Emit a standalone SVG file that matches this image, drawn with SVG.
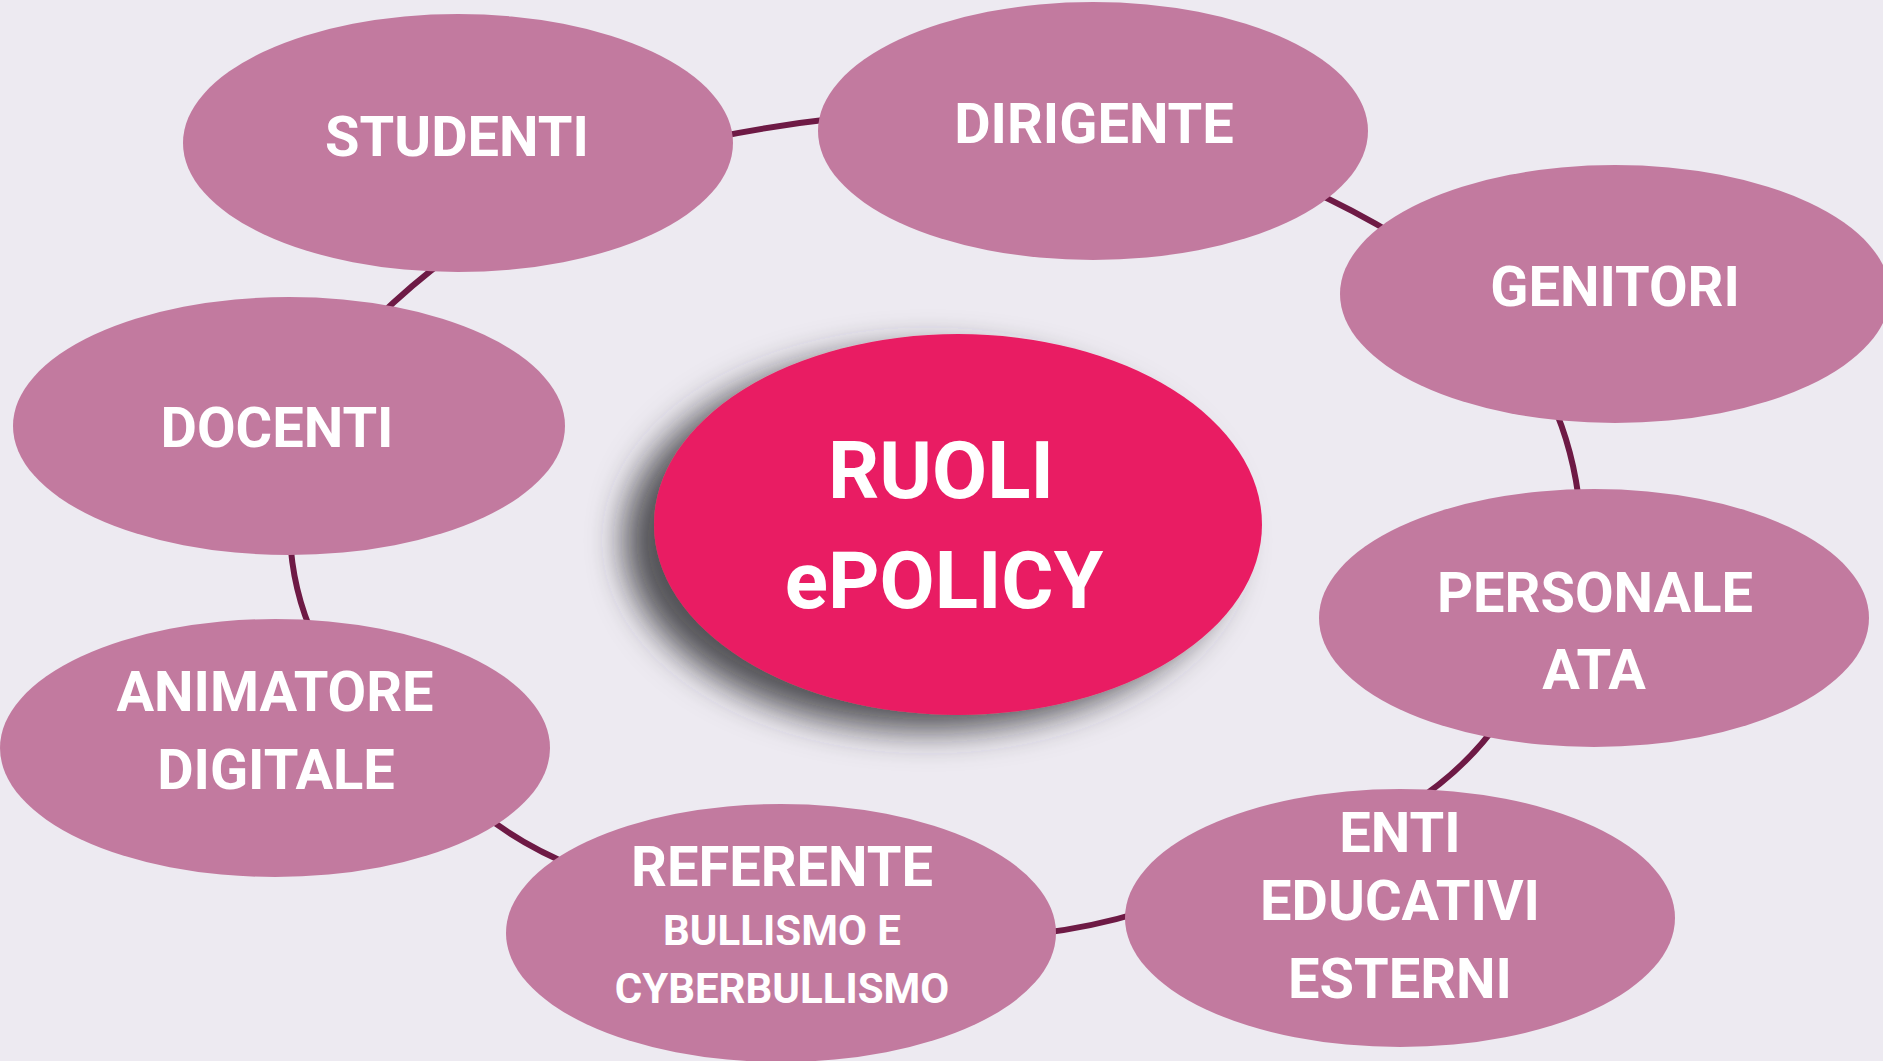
<svg xmlns="http://www.w3.org/2000/svg" width="1883" height="1061" viewBox="0 0 1883 1061">
<defs>
<filter id="shadow" x="-30%" y="-30%" width="160%" height="160%">
<feDropShadow dx="-30" dy="16" stdDeviation="17" flood-color="#2e2e33" flood-opacity="0.82"/>
</filter>
<style>
.node{fill:#C27A9F;}
.center{fill:#E91E63;}
.lbl{font-family:Roboto,"Liberation Sans",sans-serif;font-weight:700;fill:#FFFFFF;text-anchor:middle;}
.big{font-size:56px;}
.small{font-size:42px;}
.title{font-size:80px;}
.conn{fill:none;stroke:#6E1A45;stroke-width:6;stroke-linecap:butt;}
</style>
</defs>
<rect x="0" y="0" width="1883" height="1061" fill="#EDEAF1"/>
<g id="connectors">
<path class="conn" d="M712,138 Q776,125 840,118"/>
<path class="conn" d="M1305,188 Q1352,209 1400,238"/>
<path class="conn" d="M1551,400 Q1574,450 1580,510"/>
<path class="conn" d="M1500,720 Q1465,770 1410,805"/>
<path class="conn" d="M1035,934 Q1090,928 1145,911"/>
<path class="conn" d="M478,810 Q520,845 578,868"/>
<path class="conn" d="M290,535 Q292,590 315,640"/>
<path class="conn" d="M450,256 Q412,284 375,320"/>
</g>
<g id="node-studenti">
<ellipse class="node" cx="458" cy="143" rx="275" ry="129"/>
<text class="lbl big" x="457" y="156">STUDENTI</text>
</g>
<g id="node-dirigente">
<ellipse class="node" cx="1093" cy="131" rx="275" ry="129"/>
<text class="lbl big" x="1094" y="143">DIRIGENTE</text>
</g>
<g id="node-genitori">
<ellipse class="node" cx="1615" cy="294" rx="275" ry="129"/>
<text class="lbl big" x="1615" y="306">GENITORI</text>
</g>
<g id="node-docenti">
<ellipse class="node" cx="289" cy="426" rx="276" ry="129"/>
<text class="lbl big" x="277" y="447">DOCENTI</text>
</g>
<g id="node-personale">
<ellipse class="node" cx="1594" cy="618" rx="275" ry="129"/>
<text class="lbl big" x="1595" y="612">PERSONALE</text>
<text class="lbl big" x="1594" y="689">ATA</text>
</g>
<g id="node-animatore">
<ellipse class="node" cx="275" cy="748" rx="275" ry="129"/>
<text class="lbl big" x="275" y="711">ANIMATORE</text>
<text class="lbl big" x="276" y="789">DIGITALE</text>
</g>
<g id="node-referente">
<ellipse class="node" cx="781" cy="933" rx="275" ry="129"/>
<text class="lbl big" x="782" y="886">REFERENTE</text>
<text class="lbl small" x="782" y="945">BULLISMO E</text>
<text class="lbl small" x="782" y="1003">CYBERBULLISMO</text>
</g>
<g id="node-enti">
<ellipse class="node" cx="1400" cy="918" rx="275" ry="129"/>
<text class="lbl big" x="1400" y="852">ENTI</text>
<text class="lbl big" x="1400" y="920">EDUCATIVI</text>
<text class="lbl big" x="1400" y="998">ESTERNI</text>
</g>
<g id="node-center">
<ellipse class="center" cx="958" cy="524.5" rx="304" ry="190.5" filter="url(#shadow)"/>
<text class="lbl title" x="941" y="498">RUOLI</text>
<text class="lbl title" x="944" y="608">ePOLICY</text>
</g>
</svg>
